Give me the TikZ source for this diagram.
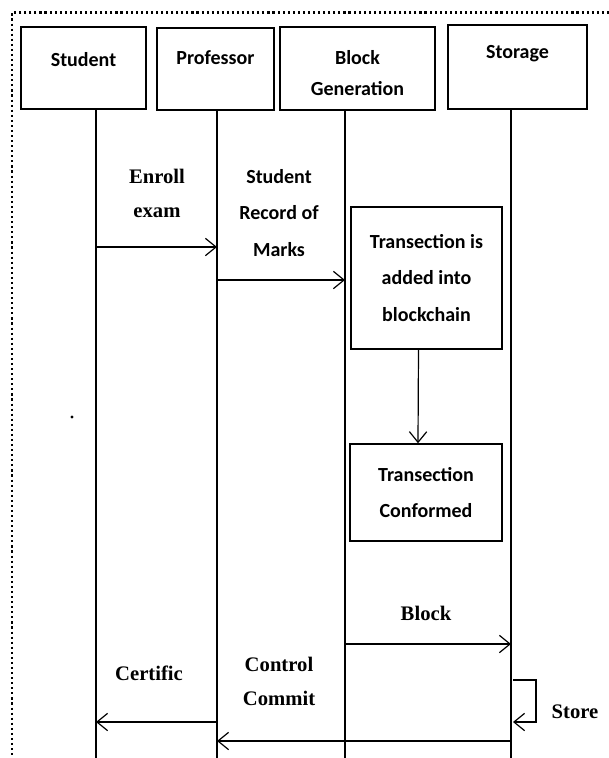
\documentclass[tikz,border=0pt]{standalone}
\usepackage{fontspec}
\setmainfont{Liberation Serif}
\newfontfamily\calibfont{Carlito}
\usetikzlibrary{arrows.meta}

\begin{document}
\begin{tikzpicture}
  [
    x=0.75pt, y=-0.75pt,
    hdrbox/.style 2 args={draw, line width=2pt, minimum width=#1*0.75pt,
      minimum height=#2*0.75pt, inner sep=0pt},
    stepbox/.style 2 args={draw, line width=1.1pt, minimum width=#1*0.75pt,
      minimum height=#2*0.75pt, inner sep=0pt, align=center,
      font=\calibfont\bfseries\fontsize{15}{27.5}\selectfont},
    hdrtxt/.style={inner sep=0pt, align=center,
      font=\calibfont\bfseries\fontsize{15}{23.5}\selectfont},
    cal/.style={inner sep=0pt, align=center,
      font=\calibfont\bfseries\fontsize{15}{27.5}\selectfont},
    tms/.style={inner sep=0pt, align=center,
      font=\bfseries\fontsize{15.5}{25.5}\selectfont},
    life/.style={line width=0.9pt},
    msg/.style={line width=0.9pt, -{Straight Barb[length=8pt,width=13pt]}}
  ]
    \useasboundingbox (0,0) rectangle (609,758);
    % dotted frame, cut at right and bottom
    \draw[line width=1.6pt, dash pattern=on 1.6pt off 2.2pt] (609,12.5) -- (12,12.5) -- (12,758);

    % header boxes
    \node[hdrbox={125}{82}] (student) at (83.5,68) {};
    \node[hdrbox={117}{82}] (prof) at (215.5,69) {};
    \node[hdrbox={155}{83}] (blockgen) at (357.5,68.5) {};
    \node[hdrbox={139}{84}] (storage) at (517.5,67) {};
    \node[hdrtxt] (studentT) at (83.5,60) {Student};
    \node[hdrtxt] (profT) at (215.5,58) {Professor};
    \node[hdrtxt] (blockgenT) at (357.5,73) {Block\\Generation};
    \node[hdrtxt] (storageT) at (517.5,54) {Storage};

    % lifelines
    \coordinate (stuL) at (96,109);
    \coordinate (proL) at (217,110);
    \coordinate (genL) at (345,110);
    \coordinate (stoL) at (511,109);
    \coordinate (bottom) at (0,758);
    \foreach \l in {stuL,proL,genL,stoL}
      \draw[life] (\l) -- (\l |- bottom);

    % blocks on the generation line
    \node[stepbox={151}{142}] (added) at (426.5,278) {Transection is\\added into\\blockchain};
    \node[stepbox={152}{97}] (conf) at (426,492.5) {Transection\\Conformed};
    \draw[msg] ([xshift=-6]added.south) -- ([xshift=-6]conf.north);

    % message rows
    \coordinate (m1) at (0,247);
    \coordinate (m2) at (0,280);
    \coordinate (m3) at (0,644);
    \coordinate (m4) at (0,680);
    \coordinate (m5) at (0,722);
    \coordinate (m6) at (0,741);
    \coordinate (loopR) at (536,722);

    \draw[msg] (stuL |- m1) -- (proL |- m1);
    \draw[msg] (proL |- m2) -- (genL |- m2);
    \draw[msg] (genL |- m3) -- (stoL |- m3);
    \draw[msg] ([xshift=1.5]stoL |- m4) -| (loopR) -- ([xshift=1.5]stoL |- m5);
    \draw[msg] (proL |- m5) -- (stuL |- m5);
    \draw[msg] (stoL |- m6) -- (proL |- m6);

    % labels
    \node[tms] (enrollT) at (157,193.5) {Enroll\\exam};
    \node[cal] (recordT) at (279,213) {Student\\Record of\\Marks};
    \node[tms] (blockT) at (426,613) {Block};
    \node[tms] (certT) at (149,673) {Certific};
    \node[tms] (commitT) at (279,681) {Control\\Commit};
    \node[tms] (storeT) at (575,712) {Store};

    \fill (72,417) circle (1.6);
\end{tikzpicture}
\end{document}
